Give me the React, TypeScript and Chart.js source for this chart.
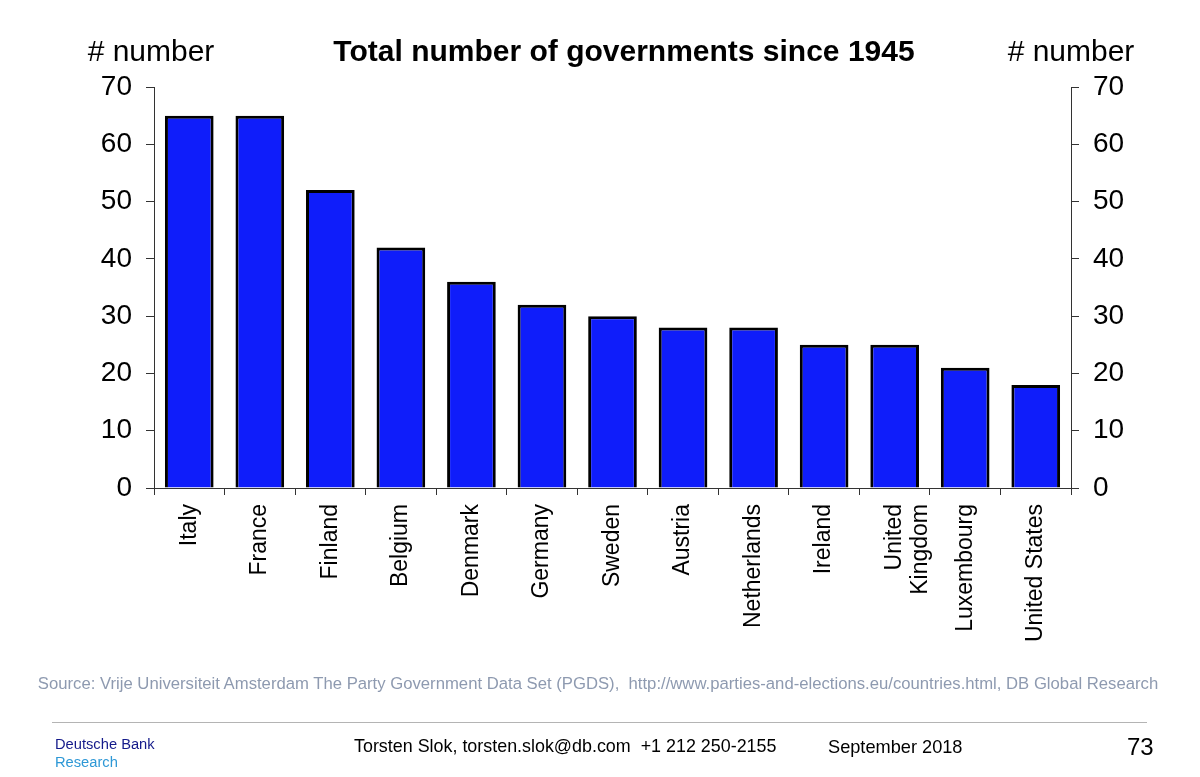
import { useEffect, useRef } from 'react'
import { Chart, registerables } from 'chart.js'

Chart.register(...registerables)

const countries: (string | string[])[] = [
  'Italy', 'France', 'Finland', 'Belgium', 'Denmark', 'Germany', 'Sweden',
  'Austria', 'Netherlands', 'Ireland', ['United', 'Kingdom'], 'Luxembourg', 'United States',
]
const governments = [65, 65, 52, 42, 36, 32, 30, 28, 28, 25, 25, 21, 18]
const yMin = 0
const yMax = 70
const yStep = 10

const FONT = '"Liberation Sans", Arial, sans-serif'

// absolutely placed text, positioned by its baseline
function Txt({ x, base, size, color = '#000', bold = false, center = false, children }: any) {
  return (
    <div
      style={{
        position: 'absolute',
        left: x,
        top: base - 0.8465 * size,
        fontSize: size,
        lineHeight: size + 'px',
        fontFamily: FONT,
        fontWeight: bold ? 'bold' : 'normal',
        color,
        whiteSpace: 'nowrap',
        transform: center ? 'translateX(-50%)' : undefined,
      }}
    >
      {children}
    </div>
  )
}

export default function App() {
  const chartRef = useRef<HTMLCanvasElement>(null)
  const chartInstance = useRef<Chart | null>(null)

  useEffect(() => {
    if (!chartRef.current) return
    if (chartInstance.current) chartInstance.current.destroy()

    const axisColor = '#333'
    const yAxis = (position: 'left' | 'right', width: number) => ({
      type: 'linear' as const,
      position,
      min: yMin,
      max: yMax,
      ticks: {
        stepSize: yStep,
        padding: 14,
        color: '#000',
        font: { family: FONT, size: 28 },
      },
      grid: { drawOnChartArea: false, drawTicks: true, tickLength: 8, color: axisColor },
      border: { display: true, color: axisColor, width: 1 },
      afterFit: (s: any) => { s.width = width },
    })

    chartInstance.current = new Chart(chartRef.current, {
      type: 'bar',
      data: {
        labels: countries,
        datasets: [
          {
            label: 'Governments',
            data: governments,
            backgroundColor: '#0f1dfa',
            borderColor: '#000',
            borderWidth: 3,
            barPercentage: 0.69,
            categoryPercentage: 1,
            yAxisID: 'y',
          },
        ],
      },
      options: {
        responsive: false,
        animation: false,
        layout: { padding: { top: 87, left: 0, right: 0, bottom: 99 } },
        plugins: { legend: { display: false }, tooltip: { enabled: false }, title: { display: false } },
        scales: {
          x: {
            grid: { offset: true, drawOnChartArea: false, drawTicks: true, tickLength: 7, color: axisColor },
            border: { display: true, color: axisColor, width: 1 },
            ticks: {
              minRotation: 90,
              maxRotation: 90,
              autoSkip: false,
              padding: 9,
              color: '#000',
              font: { family: FONT, size: 23, lineHeight: 1.15 },
            },
            afterFit: (s: any) => { s.height = 190 },
          },
          y: yAxis('left', 154),
          y1: yAxis('right', 129),
        },
      },
    } as any)

    return () => {
      if (chartInstance.current) {
        chartInstance.current.destroy()
        chartInstance.current = null
      }
    }
  }, [])

  return (
    <div style={{ position: 'fixed', left: 0, top: 0, width: 1200, height: 777, background: '#fff', overflow: 'hidden' }}>
      <canvas ref={chartRef} width={1200} height={777} style={{ position: 'absolute', left: 0, top: 0 }} />
      <Txt x={151} base={61} size={30} center># number</Txt>
      <Txt x={1071} base={61} size={30} center># number</Txt>
      <Txt x={624} base={61} size={30} bold center>Total number of governments since 1945</Txt>
      <Txt x={598} base={690} size={16.7} color="#8e9ab0" center>
        Source: Vrije Universiteit Amsterdam The Party Government Data Set (PGDS),&nbsp; http://www.parties-and-elections.eu/countries.html, DB Global Research
      </Txt>
      <div style={{ position: 'absolute', left: 52, top: 722, width: 1095, height: 1, background: '#b4b4b4' }} />
      <Txt x={55} base={749} size={14.7} color="#141a8a">Deutsche Bank</Txt>
      <Txt x={55} base={767} size={14.7} color="#2e98d6">Research</Txt>
      <Txt x={354} base={753} size={17.9}>Torsten Slok, torsten.slok@db.com&nbsp; +1 212 250-2155</Txt>
      <Txt x={828} base={753} size={18.2}>September&nbsp;2018</Txt>
      <Txt x={1127} base={755} size={24}>73</Txt>
    </div>
  )
}
